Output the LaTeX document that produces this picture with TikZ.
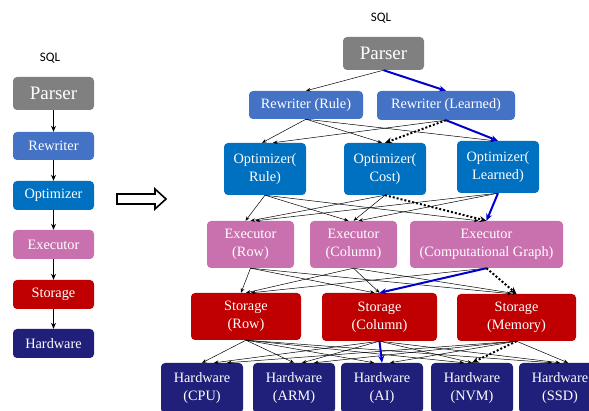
\documentclass[tikz,border=0pt]{standalone}
\usepackage{fontspec}
\setmainfont{Liberation Serif}
\newfontfamily\sqlfont{Carlito}
\usetikzlibrary{arrows.meta}
\definecolor{parsergray}{RGB}{128,128,128}
\definecolor{rewblue}{RGB}{68,114,196}
\definecolor{optblue}{RGB}{0,112,192}
\definecolor{exepink}{RGB}{201,113,174}
\definecolor{stored}{RGB}{192,0,0}
\definecolor{hwnavy}{RGB}{32,32,122}
\definecolor{pathblue}{RGB}{0,0,204}

\tikzset{
  box/.style={rounded corners=4pt, text=white, align=center, inner sep=0pt,
    font=\rmfamily\fontsize{14.3}{18}\selectfont},
  parserbox/.style={box, fill=parsergray, minimum width=81, minimum height=33,
    font=\rmfamily\fontsize{19}{22}\selectfont},
  sqllabel/.style={font=\sqlfont\fontsize{13}{15}\selectfont},
  flow/.style={-{Stealth[length=6pt,width=5pt]}, line width=1.5pt},
  edge/.style={-{Stealth[length=4.5pt,width=3.5pt]}, line width=0.5pt},
  learned/.style={-{Stealth[length=7pt,width=6pt]}, line width=2pt, pathblue},
  costpath/.style={-{Stealth[length=7pt,width=6pt]}, line width=2pt, dash pattern=on 2pt off 2pt},
}

\begin{document}
\begin{tikzpicture}[x=1pt, y=-1pt]
  \clip (0,0) rectangle (589,411);
  \useasboundingbox (0,0) rectangle (589,411);

  % left: the classic pipeline
  \node[sqllabel] (lsql) at (50,58) {SQL};
  \node[parserbox] (lparser) at (53.5,93.5) {Parser};
  \node[box, fill=rewblue, minimum width=81, minimum height=28] (lrew) at (53.5,146) {Rewriter};
  \node[box, fill=optblue, minimum width=81, minimum height=29] (lopt) at (53.5,195.5) {Optimizer};
  \node[box, fill=exepink, minimum width=81, minimum height=29] (lexe) at (53.5,244.5) {Executor};
  \node[box, fill=stored, minimum width=81, minimum height=29] (lsto) at (53.5,294.5) {Storage};
  \node[box, fill=hwnavy, minimum width=81, minimum height=29] (lhw) at (53.5,343.5) {Hardware};
  \draw[flow] (lparser) -- (lrew);
  \draw[flow] (lrew) -- (lopt);
  \draw[flow] (lopt) -- (lexe);
  \draw[flow] (lexe) -- (lsto);
  \draw[flow] (lsto) -- (lhw);

  % hollow arrow
  \draw[line width=1.6pt] (117,194) -- (155,194) -- (155,189) -- (166,199)
    -- (155,209) -- (155,204) -- (117,204) -- cycle;

  % right: the layered design space
  \node[sqllabel] (sql) at (381,18) {SQL};
  \node[parserbox] (parser) at (383.5,53.5) {Parser};

  \node[box, fill=rewblue, minimum width=114, minimum height=28] (rewR) at (306,105) {Rewriter (Rule)};
  \node[box, fill=rewblue, minimum width=138, minimum height=29] (rewL) at (446,105.5) {Rewriter (Learned)};

  \node[box, fill=optblue, minimum width=82, minimum height=52] (optR) at (265,169) {Optimizer(\\Rule)};
  \node[box, fill=optblue, minimum width=82, minimum height=52] (optC) at (385,169) {Optimizer(\\Cost)};
  \node[box, fill=optblue, minimum width=82, minimum height=52] (optL) at (498,167) {Optimizer(\\Learned)};

  \node[box, fill=exepink, minimum width=87, minimum height=47] (exeR) at (250.5,244.5) {Executor\\(Row)};
  \node[box, fill=exepink, minimum width=87, minimum height=47] (exeC) at (353.5,244.5) {Executor\\(Column)};
  \node[box, fill=exepink, minimum width=153, minimum height=47] (exeG) at (486.5,244.5) {Executor\\(Computational Graph)};

  \node[box, fill=stored, minimum width=110, minimum height=47] (stoR) at (246,316.5) {Storage\\(Row)};
  \node[box, fill=stored, minimum width=115, minimum height=48] (stoC) at (379.5,317) {Storage\\(Column)};
  \node[box, fill=stored, minimum width=119, minimum height=47] (stoM) at (516.5,317.5) {Storage\\(Memory)};

  \node[box, fill=hwnavy, minimum width=82, minimum height=50] (hwCPU) at (202,388) {Hardware\\(CPU)};
  \node[box, fill=hwnavy, minimum width=82, minimum height=50] (hwARM) at (294,388) {Hardware\\(ARM)};
  \node[box, fill=hwnavy, minimum width=82, minimum height=50] (hwAI) at (382,388) {Hardware\\(AI)};
  \node[box, fill=hwnavy, minimum width=82, minimum height=50] (hwNVM) at (472,388) {Hardware\\(NVM)};
  \node[box, fill=hwnavy, minimum width=82, minimum height=50] (hwSSD) at (560,388) {Hardware\\(SSD)};

  % every choice reaches every choice of the next layer
  \draw[edge] (parser.south) -- (rewR.north);
  \foreach \s/\t/\dx in {rewR/optR/-3, rewR/optC/-3, rewR/optL/-3, rewL/optR/8}
    \draw[edge] (\s.south) -- ([xshift=\dx]\t.north);
  \foreach \s/\t/\dx in {optR/exeR/-5, optR/exeC/-5, optR/exeG/-8, optC/exeR/0, optC/exeC/0,
      optL/exeR/5, optL/exeC/5}
    \draw[edge] (\s.south) -- ([xshift=\dx]\t.north);
  \foreach \s/\t/\dx in {exeR/stoR/-5, exeR/stoC/-5, exeR/stoM/-5, exeC/stoR/0, exeC/stoC/0,
      exeC/stoM/0, exeG/stoR/5}
    \draw[edge] (\s.south) -- ([xshift=\dx]\t.north);
  \foreach \s/\t/\dx in {stoR/hwCPU/0, stoR/hwARM/0, stoR/hwAI/-8, stoR/hwNVM/-8, stoR/hwSSD/-8,
      stoC/hwCPU/12, stoC/hwARM/8, stoC/hwNVM/0, stoC/hwSSD/0,
      stoM/hwCPU/25, stoM/hwARM/20, stoM/hwAI/8, stoM/hwSSD/8}
    \draw[edge] (\s.south) -- ([xshift=\dx]\t.north);

  % learned path
  \draw[learned] (parser.south) -- (rewL.north);
  \draw[learned] (rewL.south) -- (optL.north);
  \draw[learned] (optL.south) -- (exeG.north);
  \draw[learned] (exeG.south) -- (stoC.north);
  \draw[learned] (stoC.south) -- (hwAI.north);

  % cost-based path
  \draw[costpath] (rewL.south) -- (optC.north);
  \draw[costpath] (optC.south) -- (exeG.north);
  \draw[costpath] (exeG.south) -- (stoM.north);
  \draw[costpath] (stoM.south) -- (hwNVM.north);
\end{tikzpicture}
\end{document}
